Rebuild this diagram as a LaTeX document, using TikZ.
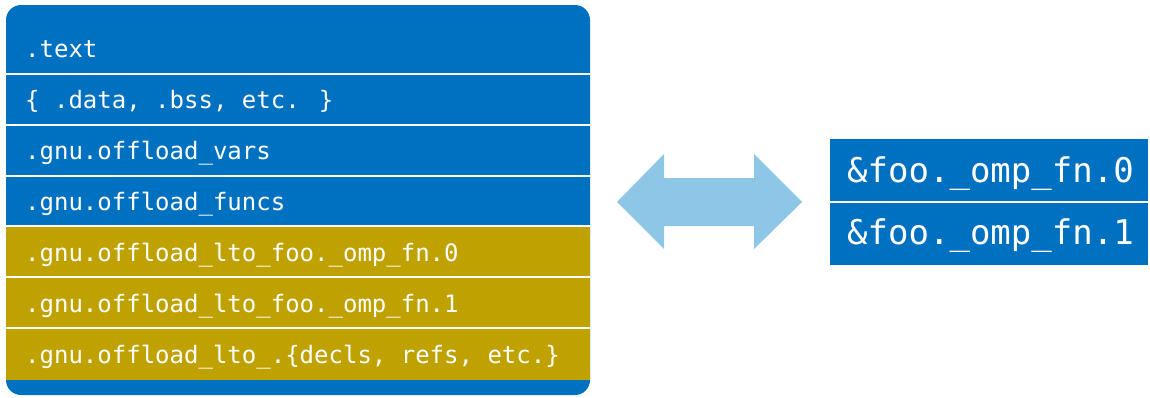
\documentclass[tikz,border=0pt]{standalone}
\usepackage{fontspec}
\newfontfamily\monofnt{DejaVu Sans Mono}
\definecolor{secblue}{RGB}{0,112,192}
\definecolor{secgold}{RGB}{191,161,0}
\definecolor{arrowblue}{RGB}{142,198,232}
\tikzset{
  rowtxt/.style={inner sep=0pt, anchor=base west, text=white, font=\monofnt\fontsize{24}{28}\selectfont},
  fntxt/.style={inner sep=0pt, anchor=base west, text=white, font=\monofnt\fontsize{34}{40}\selectfont},
  sep/.style={draw=white, line width=2pt},
  fnbox/.style={fill=secblue, draw=none}
}
\begin{document}
\begin{tikzpicture}[x=1pt,y=-1pt]
\useasboundingbox (0,0) rectangle (1150,397);
% section table
\fill[secblue, rounded corners=15pt] (6,5) rectangle (590,395);
\fill[secgold] (6,226) rectangle (590,380);
\foreach \yy in {74,125,176,226,277,328} {
  \draw[sep] (6,\yy) -- (590,\yy);
}
\node[rowtxt] (t1) at (25,57) {.text};
\node[rowtxt] (t2) at (25,108) {\{ .data, .bss, etc. \}};
\node[rowtxt] (t3) at (25,159) {.gnu.offload\_vars};
\node[rowtxt] (t4) at (25,210) {.gnu.offload\_funcs};
\node[rowtxt] (t5) at (25,261) {.gnu.offload\_lto\_foo.\_omp\_fn.0};
\node[rowtxt] (t6) at (25,312) {.gnu.offload\_lto\_foo.\_omp\_fn.1};
\node[rowtxt] (t7) at (25,363) {.gnu.offload\_lto\_.\{decls, refs, etc.\}};
% double arrow
\fill[arrowblue] (617,202) -- (664,154) -- (664,178) -- (754,178) -- (754,154)
  -- (802,202) -- (754,249) -- (754,226) -- (664,226) -- (664,249) -- cycle;
% function table
\fill[fnbox] (830,139) rectangle (1148,201);
\fill[fnbox] (830,203) rectangle (1148,265);
\node[fntxt] (f0) at (847,182) {\&foo.\_omp\_fn.0};
\node[fntxt] (f1) at (847,244) {\&foo.\_omp\_fn.1};
\end{tikzpicture}
\end{document}
